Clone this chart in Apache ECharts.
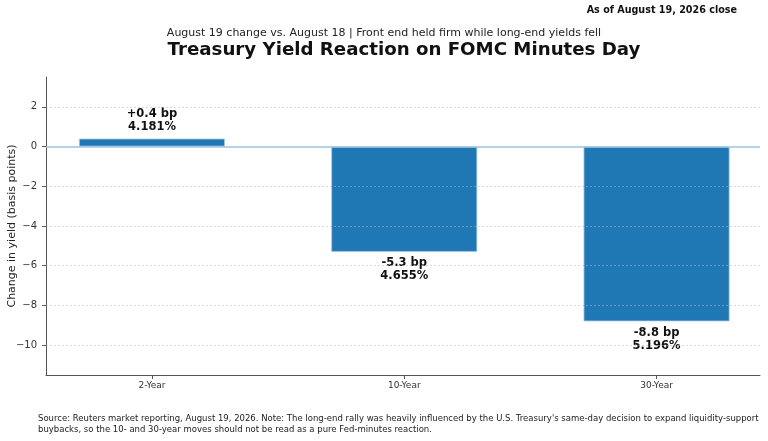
<!DOCTYPE html>
<html>
<head>
<meta charset="utf-8">
<script src="https://cdn.jsdelivr.net/npm/echarts@6/dist/echarts.min.js"></script>
<style>
html, body { margin: 0; padding: 0; background: #fff; }
#main { width: 768px; height: 441px; }
</style>
</head>
<body>
<div id="main"></div>
<script>
// data
var tenors = ['2-Year', '10-Year', '30-Year'];
var changeBp = [0.4, -5.3, -8.8];
var closeYield = ['4.181', '4.655', '5.196'];
var yTicks = [-10, -8, -6, -4, -2, 0, 2];

var FONT = 'DejaVu Sans';

var barData = [];
for (var i = 0; i < tenors.length; i++) {
	var v = changeBp[i];
	barData.push({
		value: [i, v],
		label: { position: v >= 0 ? 'top' : 'bottom' }
	});
}

// dotted grid lines and the zero line
var gridLines = [];
for (var j = 0; j < yTicks.length; j++) {
	if (yTicks[j] === 0) continue;
	gridLines.push({ yAxis: yTicks[j] });
}
gridLines.push({
	yAxis: 0,
	lineStyle: { color: '#9cc3e0', width: 1.5, type: 'solid' }
});

var myChart = echarts.init(document.getElementById('main'), null, { renderer: 'canvas' });

var option = {
	animation: false,
	textStyle: { fontFamily: FONT },
	grid: { left: 46, right: 8, top: 77, bottom: 66, containLabel: false, outerBoundsMode: 'none' },
	xAxis: {
		type: 'value',
		min: -0.42,
		max: 2.41,
		splitLine: { show: false },
		axisLine: { onZero: false, lineStyle: { color: '#555', width: 1 } },
		axisTick: { customValues: [0, 1, 2], length: 4, lineStyle: { color: '#555' } },
		axisLabel: {
			customValues: [0, 1, 2],
			formatter: function (v) { return tenors[Math.round(v)]; },
			color: '#333',
			fontSize: 9,
			margin: 6,
			fontFamily: FONT
		}
	},
	yAxis: {
		type: 'value',
		min: -11.5,
		max: 3.5,
		splitLine: { show: false },
		axisLine: { show: true, onZero: false, lineStyle: { color: '#555', width: 1 } },
		axisTick: { show: true, customValues: yTicks, length: 4, lineStyle: { color: '#555' } },
		axisLabel: {
			customValues: yTicks,
			formatter: function (v) { return v < 0 ? '\u2212' + Math.abs(v) : String(v); },
			color: '#333',
			fontSize: 10,
			margin: 9,
			fontFamily: FONT
		}
	},
	series: [{
		type: 'bar',
		data: barData,
		barWidth: 146,
		itemStyle: { color: '#1f77b4', borderColor: '#a8cbe4', borderWidth: 0.8 },
		label: {
			show: true,
			distance: 5,
			fontFamily: FONT,
			fontWeight: 'bold',
			fontSize: 11.5,
			lineHeight: 13,
			color: '#111',
			align: 'center',
			formatter: function (p) {
				var v = changeBp[p.dataIndex];
				var s = (v > 0 ? '+' : '') + v.toFixed(1) + ' bp';
				return s + '\n' + closeYield[p.dataIndex] + '%';
			}
		},
		markLine: {
			silent: true,
			symbol: 'none',
			label: { show: false },
			lineStyle: { color: 'rgba(185,185,185,0.65)', width: 0.8, type: [2, 2] },
			data: gridLines
		}
	}],
	graphic: [{
		type: 'text',
		right: 31,
		top: 5,
		style: {
			text: 'As of August 19, 2026 close',
			font: 'bold 9.6px "DejaVu Sans"',
			fill: '#111'
		}
	}, {
		type: 'text',
		x: 384,
		y: 33,
		style: {
			text: 'August 19 change vs. August 18 | Front end held firm while long-end yields fell',
			font: '11px "DejaVu Sans"',
			fill: '#222',
			align: 'center',
			verticalAlign: 'middle'
		}
	}, {
		type: 'text',
		x: 404,
		y: 50,
		style: {
			text: 'Treasury Yield Reaction on FOMC Minutes Day',
			font: 'bold 18.2px "DejaVu Sans"',
			fill: '#111',
			align: 'center',
			verticalAlign: 'middle'
		}
	}, {
		// y axis title
		type: 'text',
		x: 12,
		y: 226,
		rotation: Math.PI / 2,
		style: {
			text: 'Change in yield (basis points)',
			font: '11px "DejaVu Sans"',
			fill: '#222',
			align: 'center',
			verticalAlign: 'middle'
		}
	}, {
		type: 'text',
		x: 38,
		y: 413,
		style: {
			text: 'Source: Reuters market reporting, August 19, 2026. Note: The long-end rally was heavily influenced by the U.S. Treasury\'s same-day decision to expand liquidity-support\nbuybacks, so the 10- and 30-year moves should not be read as a pure Fed-minutes reaction.',
			font: '8.5px "DejaVu Sans"',
			lineHeight: 11,
			fill: '#222'
		}
	}]
};

myChart.setOption(option);
</script>
</body>
</html>
